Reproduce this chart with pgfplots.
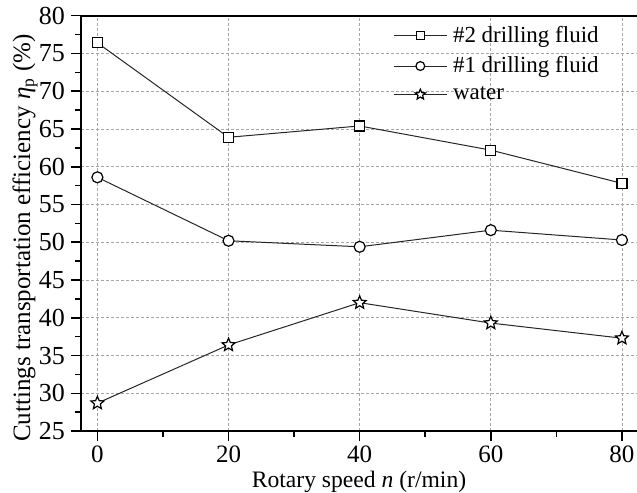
\documentclass[border=0pt]{standalone}
\usepackage{pgfplots}
\pgfplotsset{compat=1.18}
\usepackage{fontspec}
\setmainfont{Liberation Serif}
\usetikzlibrary{plotmarks}

\pgfdeclareplotmark{ostar}{%
  \pgfpathmoveto{\pgfpointpolar{90}{\pgfplotmarksize}}%
  \pgfpathlineto{\pgfpointpolar{126}{0.45\pgfplotmarksize}}%
  \pgfpathlineto{\pgfpointpolar{162}{\pgfplotmarksize}}%
  \pgfpathlineto{\pgfpointpolar{198}{0.45\pgfplotmarksize}}%
  \pgfpathlineto{\pgfpointpolar{234}{\pgfplotmarksize}}%
  \pgfpathlineto{\pgfpointpolar{270}{0.45\pgfplotmarksize}}%
  \pgfpathlineto{\pgfpointpolar{306}{\pgfplotmarksize}}%
  \pgfpathlineto{\pgfpointpolar{342}{0.45\pgfplotmarksize}}%
  \pgfpathlineto{\pgfpointpolar{18}{\pgfplotmarksize}}%
  \pgfpathlineto{\pgfpointpolar{54}{0.45\pgfplotmarksize}}%
  \pgfpathclose
  \pgfusepathqfillstroke
}

\begin{document}
\begin{tikzpicture}
\begin{axis}[
  scale only axis,
  width=278pt, height=207.7pt,
  xmin=-2.5, xmax=82.3, ymin=25, ymax=80,
  xtick={0,20,40,60,80}, ytick={25,30,...,80},
  minor x tick num=1, minor y tick num=1,
  tick align=outside, tick pos=left,
  major tick length=5pt, minor tick length=3pt,
  every tick/.style={black, line width=0.8pt},
  axis lines*=left,
  axis line style={-, line width=1pt},
  grid=major,
  major grid style={dash pattern=on 1.5pt off 1pt, gray!70, line width=0.4pt},
  /pgf/number format/assume math mode=true,
  xticklabel style={font=\fontsize{12.5}{14}\selectfont, inner ysep=2pt},
  yticklabel style={font=\fontsize{13}{15}\selectfont, xshift=0.5pt},
  every axis x label/.style={at={(axis description cs:0.5,-0.122)}, anchor=center, font=\fontsize{11.8}{14}\selectfont},
  every axis y label/.style={at={(axis description cs:-0.1007,0.465)}, anchor=center, rotate=90, font=\fontsize{12.5}{14}\selectfont},
  xlabel={Rotary speed \textit{n} (r/min)},
  ylabel={Cuttings transportation efficiency \textit{η}\textsubscript{p} (\%)},
  legend style={at={(0.558,0.99)}, anchor=north west, draw=none, fill=none,
    font=\fontsize{11.5}{13}\selectfont, row sep=1.5pt, inner sep=1pt,
    nodes={inner xsep=3pt}},
  legend cell align=left,
  legend image code/.code={%
    \draw[mark=none] (0cm,0cm) -- (0.92cm,0cm);
    \draw[every mark/.append style={scale=0.8}] plot coordinates {(0.46cm,0cm)};},
]
\addplot[black!85, line width=0.5pt, mark=square*, mark size=2.5pt, mark options={solid, fill=white, draw=black, line width=0.6pt}] coordinates {(0,76.4) (20,63.9) (40,65.4) (60,62.2) (80,57.8)};
\addlegendentry{\#2 drilling fluid}
\addplot[black!85, line width=0.5pt, mark=*, mark size=2.75pt, mark options={solid, fill=white, draw=black, line width=0.6pt}] coordinates {(0,58.6) (20,50.2) (40,49.4) (60,51.6) (80,50.3)};
\addlegendentry{\#1 drilling fluid}
\addplot[black!85, line width=0.5pt, mark=ostar, mark size=3.4pt, mark options={solid, fill=white, draw=black, line width=0.6pt}] coordinates {(0,28.7) (20,36.4) (40,42.0) (60,39.3) (80,37.3)};
\addlegendentry{water}
\draw[line width=1pt] (rel axis cs:0,1) -- (rel axis cs:1,1);
\coordinate (SW) at (rel axis cs:0,0);
\coordinate (NE) at (rel axis cs:1,1);
\end{axis}
\pgfresetboundingbox
\useasboundingbox ([shift={(-40.5pt,-30.5pt)}]SW) rectangle ([shift={(0pt,7.85pt)}]NE);
\end{tikzpicture}
\end{document}
